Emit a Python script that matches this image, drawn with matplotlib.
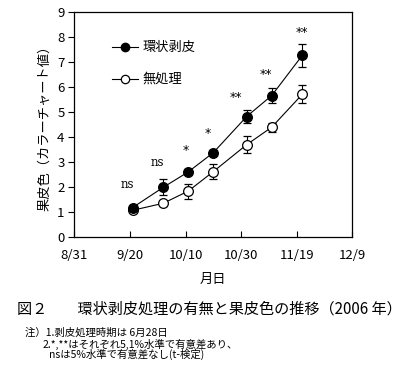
import matplotlib
matplotlib.use("Agg")
import matplotlib.pyplot as plt
import numpy as np

plt.rcParams['font.family'] = ['Noto Sans CJK JP', 'DejaVu Sans']

# Days after 8/31
days = [21, 32, 41, 50, 62, 71, 82]
girdled = [1.17, 1.98, 2.6, 3.37, 4.82, 5.66, 7.27]
girdled_err = [0.05, 0.32, 0.1, 0.1, 0.25, 0.3, 0.45]
control = [1.06, 1.34, 1.83, 2.61, 3.69, 4.39, 5.71]
control_err = [0.05, 0.1, 0.3, 0.3, 0.33, 0.18, 0.36]
sig_labels = ['ns', 'ns', '*', '*', '**', '**', '**']
sig_y = [2.1, 2.98, 3.45, 4.15, 5.6, 6.5, 8.2]
sig_dx = [-2, -2, -1, -2, -4, -2, 0]

xtick_pos = [0, 20, 40, 60, 80, 100]
xtick_labels = ['8/31', '9/20', '10/10', '10/30', '11/19', '12/9']
yticks = list(range(0, 10))

fig = plt.figure(figsize=(4.2, 3.7), dpi=100)
ax = fig.add_axes([74.3/420, 1-236.7/370, (352.3-74.3)/420, (236.7-12.3)/370])

ax.errorbar(days, control, yerr=control_err, color='black', lw=0.8,
            marker='o', ms=7, mfc='white', mec='black', mew=0.9,
            capsize=3, elinewidth=0.8, capthick=0.8, zorder=3)
ax.errorbar(days, girdled, yerr=girdled_err, color='black', lw=0.8,
            marker='o', ms=7, mfc='black', mec='black', mew=0.9,
            capsize=3, elinewidth=0.8, capthick=0.8, zorder=4)

for d, lab, y, dx in zip(days, sig_labels, sig_y, sig_dx):
    fs = 8.5 if lab == 'ns' else 9
    ax.text(d + dx, y, lab, ha='center', va='center', fontsize=fs,
            family=['DejaVu Serif'] if lab == 'ns' else ['DejaVu Sans'])

# legend drawn manually in data coordinates
ax.plot([13.5, 23], [7.6, 7.6], color='black', lw=0.8)
ax.plot([18.2], [7.6], marker='o', ms=6, mfc='black', mec='black')
ax.text(24.5, 7.6, '環状剥皮', va='center', ha='left', fontsize=9.5)
ax.plot([13.5, 23], [6.33, 6.33], color='black', lw=0.8)
ax.plot([18.2], [6.33], marker='o', ms=6, mfc='white', mec='black', mew=0.9)
ax.text(24.5, 6.33, '無処理', va='center', ha='left', fontsize=9.5)

ax.set_xlim(0, 100)
ax.set_ylim(0, 9)
ax.set_xticks(xtick_pos)
ax.set_xticklabels(xtick_labels, fontsize=9.5)
ax.set_yticks(yticks)
ax.set_yticklabels([str(v) for v in yticks], fontsize=9.5)
ax.tick_params(axis='x', direction='in', length=4, width=0.8, pad=9)
ax.tick_params(axis='y', direction='out', length=4, width=0.8, pad=3)
for s in ax.spines.values():
    s.set_linewidth(0.9)

ax.set_ylabel('果皮色（カラーチャート値）', fontsize=9.5, labelpad=4)
ax.set_xlabel('月日', fontsize=9.5, labelpad=8)

fig.text(17/420, 1-309/370, '図２　　環状剥皮処理の有無と果皮色の推移（2006 年）',
         fontsize=10.9, va='center', ha='left')
fig.text(25/420, 1-333/370, '注）1.剥皮処理時期は 6月28日', fontsize=7.5, va='center', ha='left')
fig.text(43/420, 1-344/370, '2.*,**はそれぞれ5,1%水準で有意差あり、', fontsize=7.5, va='center', ha='left')
fig.text(49/420, 1-354.5/370, 'nsは5%水準で有意差なし(t-検定)', fontsize=7.5, va='center', ha='left')

fig.savefig('out.png', dpi=100)
